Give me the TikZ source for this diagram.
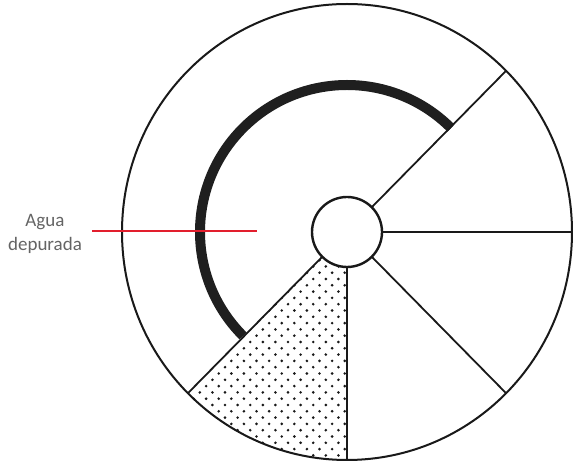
\documentclass[tikz,border=0pt]{standalone}
\usepackage{fontspec}
\setmainfont{Carlito}
\begin{document}
\begin{tikzpicture}[x=1pt,y=1pt,
  rimline/.style={line width=2pt, black!90},
  spoke/.style={line width=1.8pt, black!90},
  hubstyle/.style={circle, draw=black!90, line width=2.4pt, minimum size=70pt, inner sep=0pt, outer sep=0pt, fill=white},
  thickarc/.style={line width=10pt, black!88, line cap=butt},
  redline/.style={line width=1.8pt, draw={rgb,255:red,226;green,30;blue,45}},
  lbl/.style={text={rgb,255:red,100;green,100;blue,100}, font=\fontsize{19}{24.5}\selectfont, align=center, inner sep=0pt}
]
\useasboundingbox (0,0) rectangle (573,463);
\coordinate (c) at (347,231);
% rim points (parametric on the outer ellipse)
\coordinate (r45)  at ([shift={(45:225 and 228)}]c);
\coordinate (r0)   at ([shift={(0:225 and 228)}]c);
\coordinate (rm45) at ([shift={(-45:225 and 228)}]c);
\coordinate (r270) at ([shift={(270:225 and 228)}]c);
\coordinate (r225) at ([shift={(225:225 and 228)}]c);
% dotted sector
\begin{scope}
  \clip ([shift={(225:35)}]c) -- (r225) arc[start angle=225, end angle=270, x radius=225, y radius=228]
        -- ([shift={(270:35)}]c) arc[start angle=270, end angle=225, radius=35] -- cycle;
  \foreach \j in {-21,...,18} {
    \foreach \k in {-9,...,6} {
      \pgfmathsetmacro\xx{281.7+\k*12.6+6.3*mod(\j+100,2)}
      \pgfmathsetmacro\yy{127.3+\j*6.3}
      \fill[black!90] (\xx,\yy) circle (1.45);
    }
  }
\end{scope}
% outer circle
\draw[rimline] (c) ellipse [x radius=225, y radius=228];
% thick arc
\draw[thickarc] ([shift={(45:147)}]c) arc[start angle=45, end angle=225, radius=147];
% hub
\node[hubstyle] (hub) at (c) {};
% spokes
\draw[spoke] (hub.45) -- (r45);
\draw[spoke] (hub.0) -- (r0);
\draw[spoke] (hub.-45) -- (rm45);
\draw[spoke] (hub.270) -- (r270);
\draw[spoke] (hub.225) -- (r225);
% label and red line
\node[lbl] (lab) at (45,229) {Agua\\depurada};
\coordinate (redend) at (257,232);
\draw[redline] (92,232) -- (redend);
\end{tikzpicture}
\end{document}
